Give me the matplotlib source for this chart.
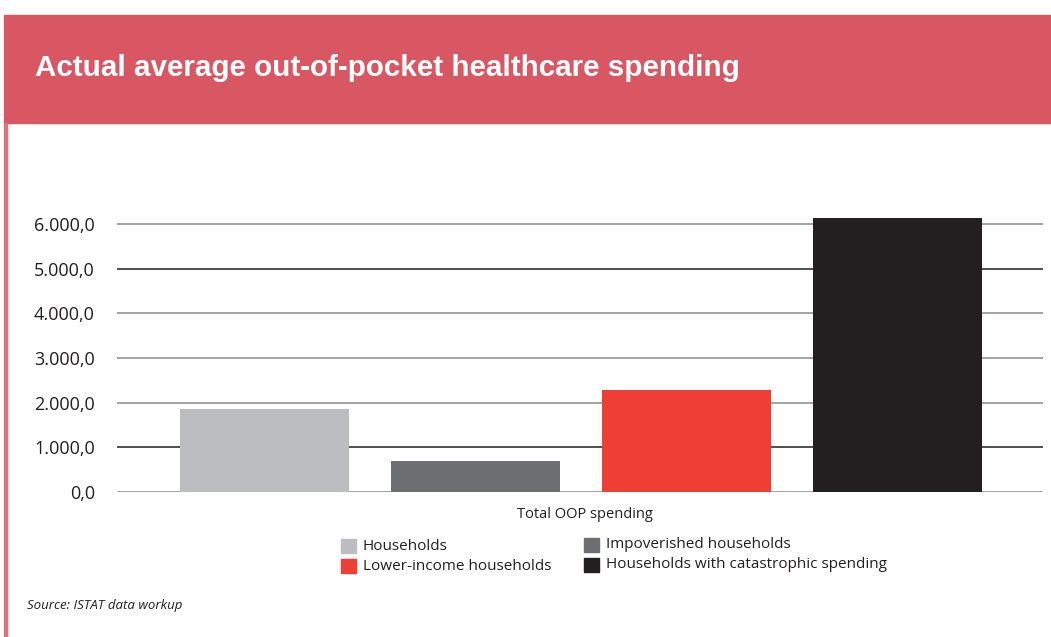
import matplotlib
matplotlib.use("Agg")
import matplotlib.pyplot as plt
from matplotlib.patches import Rectangle

# Data
categories = ["Households", "Impoverished households",
              "Lower-income households", "Households with catastrophic spending"]
values = [1860, 695, 2285, 6135]
colors = ["#BCBDC0", "#6D6E71", "#EF3E33", "#231F20"]
yticks = [0, 1000, 2000, 3000, 4000, 5000, 6000]
grid_colors = ["#8A8A8A", "#231F20", "#8A8A8A", "#8A8A8A", "#8A8A8A", "#231F20", "#8A8A8A"]
xlabel = "Total OOP spending"
title = "Actual average out-of-pocket healthcare spending"
source = "Source: ISTAT data workup"

W, H = 1051, 637
fig = plt.figure(figsize=(W / 100, H / 100), dpi=100)
fig.patch.set_facecolor("white")

# Header band and left border
band_color = "#D95763"
fig.patches.append(Rectangle((4 / W, 1 - 123 / H), 1 - 4 / W, 108 / H,
                             transform=fig.transFigure, color=band_color, zorder=0))
fig.patches.append(Rectangle((4 / W, 0), 3 / W, 1 - 123 / H,
                             transform=fig.transFigure, color="#E0707A", zorder=0))
fig.text(35 / W, 1 - 68 / H, title, color="white", fontsize=21.3,
         fontweight="bold", family="Liberation Sans", va="center", ha="left")

# Plot area
px_per_k = 44.67
ymax = 6500
ax = fig.add_axes([117 / W, 1 - 492 / H, 926 / W, ymax / 1000 * px_per_k / H])
x = list(range(len(values)))
ax.bar(x, values, width=0.8, color=colors, zorder=3)
for yv, gc in zip(yticks, grid_colors):
    ax.axhline(yv, color=gc, lw=1.1, zorder=1)
ax.set_xlim(-0.7, 3.69)
ax.set_ylim(0, ymax)
ax.set_yticks(yticks)
ax.set_yticklabels([f"{v:,.1f}".replace(",", "X").replace(".", ",").replace("X", ".") for v in yticks],
                   family="Open Sans", fontsize=13, color="#231F20")
ax.tick_params(axis="y", length=0, pad=16)
ax.set_xticks([])
for s in ax.spines.values():
    s.set_visible(False)

fig.text(585 / W, 1 - 514 / H, xlabel, ha="center", va="center",
         family="Open Sans", fontsize=10.5, color="#231F20")

# Legend
leg_pos = [(341, 546), (584, 545), (341, 566), (584, 565)]
for (lx, ly), lab, c in zip(leg_pos, categories, colors):
    fig.patches.append(Rectangle((lx / W, 1 - (ly + 7) / H), 15 / W, 14 / H,
                                 transform=fig.transFigure, color=c))
    fig.text((lx + 22) / W, 1 - ly / H, lab, ha="left", va="center",
             family="Open Sans", fontsize=11, color="#231F20")

fig.text(27 / W, 1 - 606 / H, source, ha="left", va="center", style="italic",
         family="Open Sans", fontsize=9.5, color="#231F20")

fig.savefig("out.png", dpi=100)
